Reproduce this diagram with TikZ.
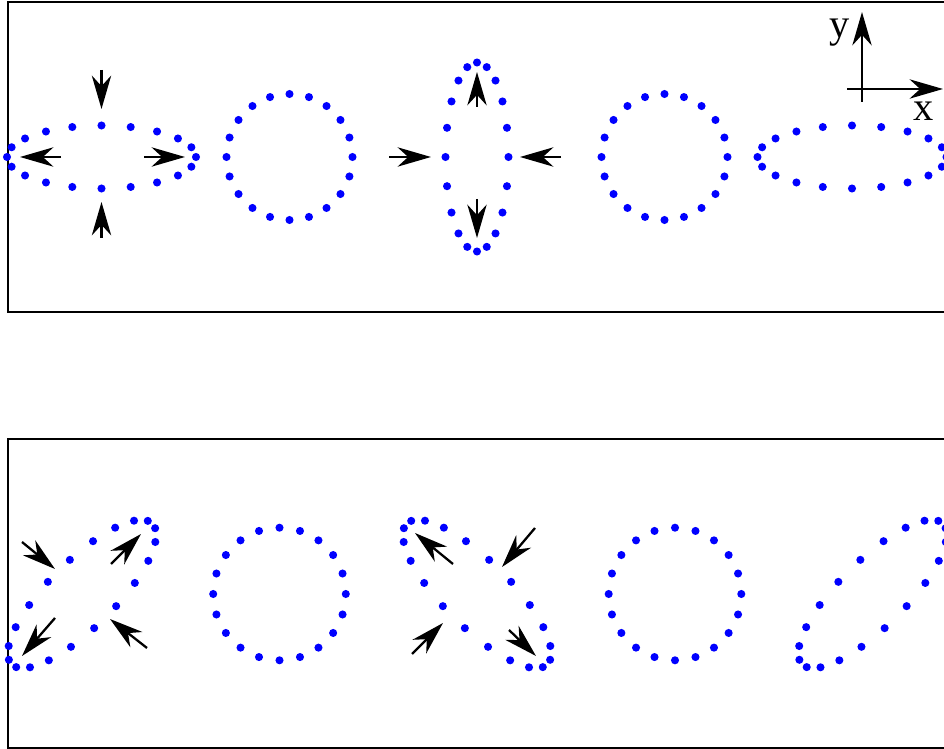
\documentclass[tikz,border=0pt]{standalone}
\usepackage{fontspec}
\setmainfont{Liberation Serif}
\usetikzlibrary{arrows.meta}

\begin{document}
\begin{tikzpicture}[x=0.02cm,y=-0.02cm,
    mass/.style={fill=blue},
    force/.style={line width=1.3pt,-{Stealth[length=19pt,width=11pt,inset=6pt]}},
    frame/.style={line width=1.4pt},
    lab/.style={font=\fontsize{23}{27}\selectfont,inner sep=0pt}]
        \useasboundingbox (0,0) rectangle (944,749);
        \clip (0,0) rectangle (944,749);
        % Draw the two frames
        \draw[frame] (8,2) rectangle (990,312);
        \draw[frame] (8,439) rectangle (990,748);
        % Rings of masses, plus polarisation
        \foreach \cx/\p in {101.5/0.5, 289.5/0, 477/-0.5, 664.5/0, 852/0.5}
            \foreach \t in {0,18,...,342}
                \fill[mass] ({\cx+63*(1+\p)*cos(\t)}, {157-63*(1-\p)*sin(\t)}) circle[radius=2.3pt];
        % Rings of masses, cross polarisation
        \foreach \cx/\q in {82/0.5, 279.5/0, 477/-0.5, 675/0, 872.5/0.5}
            \foreach \t in {0,18,...,342}
                \fill[mass] ({\cx+66.3*(cos(\t)+\q*sin(\t))}, {594-66.3*(sin(\t)+\q*cos(\t))}) circle[radius=2.3pt];
        % Forces on the first ring
        \draw[force] (101.5,70) -- (101.5,109);
        \draw[force] (101.5,238) -- (101.5,202);
        \draw[force] (61,157) -- (20,157);
        \draw[force] (144,157) -- (185,157);
        % Forces on the third ring
        \draw[force] (389,157) -- (431,157);
        \draw[force] (561,157) -- (520,157);
        \draw[force] (477,107) -- (477,72);
        \draw[force] (477,199) -- (477,238);
        % Forces on the rotated rings
        \draw[force] (22,542) -- (55,569);
        \draw[force] (111,564) -- (141,534);
        \draw[force] (55,618) -- (22,656);
        \draw[force] (147,648) -- (110,619);
        \draw[force] (453,564) -- (415,533);
        \draw[force] (535,528) -- (502,567);
        \draw[force] (412,654) -- (443,623);
        \draw[force] (509,630) -- (536,656);
        % Axes
        \coordinate (origin) at (862,89);
        \draw[force] (862,102) -- (862,12);
        \draw[force] (847,89) -- (943,89);
        \node[lab] (ylab) at (840,33) {y};
        \node[lab] (xlab) at (924,111) {x};
    \end{tikzpicture}
\end{document}
